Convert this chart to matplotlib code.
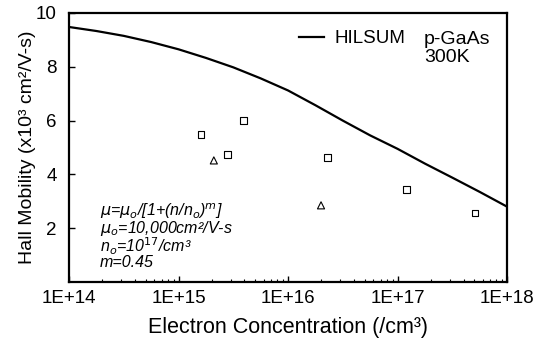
import matplotlib.pyplot as plt
import numpy as np

plt.rcParams['font.family'] = ['Liberation Sans', 'DejaVu Sans']

# HILSUM curve (smoothed by eye)
hil_n = [1e14, 1.78e14, 3.16e14, 5.62e14, 1e15, 1.78e15, 3.16e15, 5.62e15, 1e16,
         1.78e16, 3.16e16, 5.62e16, 1e17, 1.78e17, 3.16e17, 5.62e17, 1e18]
hil_mu = [9.48, 9.33, 9.15, 8.92, 8.65, 8.33, 7.98, 7.57, 7.12,
          6.57, 6.0, 5.45, 4.95, 4.4, 3.88, 3.35, 2.8]

# measured points
sq_n = [1.6e15, 2.8e15, 3.9e15, 2.3e16, 1.2e17, 5.1e17]
sq_mu = [5.48, 4.74, 6.00, 4.63, 3.44, 2.56]
tri_n = [2.1e15, 2.0e16]
tri_mu = [4.52, 2.85]

xticks = [1e14, 1e15, 1e16, 1e17, 1e18]
xlabels = ["1E+14", "1E+15", "1E+16", "1E+17", "1E+18"]
yticks = [2, 4, 6, 8, 10]

fig = plt.figure(figsize=(5.5, 3.42), dpi=100)
ax = fig.add_axes([0.1255, 0.1754, 0.7965, 0.7866])

ax.plot(hil_n, hil_mu, color='black', lw=1.6, label='HILSUM')
ax.scatter(sq_n, sq_mu, marker='s', s=22, facecolors='none', edgecolors='black', linewidths=0.8)
ax.scatter(tri_n, tri_mu, marker='^', s=26, facecolors='none', edgecolors='black', linewidths=0.8)

ax.set_xscale('log')
ax.set_xlim(1e14, 1e18)
ax.set_ylim(0, 10)
ax.set_xticks(xticks)
ax.set_xticklabels(xlabels)
ax.set_yticks(yticks)
ax.set_yticklabels([str(v) for v in yticks])
ax.tick_params(axis='both', which='major', direction='in', length=4, width=1, labelsize=13.5, pad=6)
ax.tick_params(axis='y', pad=9)
ax.tick_params(axis='x', which='minor', direction='in', length=2.5, width=0.8)
ax.tick_params(top=False, right=False, which='both')
for s in ax.spines.values():
    s.set_linewidth(1.6)

ax.set_xlabel("Electron Concentration (/cm³)", fontsize=15.5, labelpad=7)
ax.set_ylabel("Hall Mobility (x10³ cm²/V-s)", fontsize=14, labelpad=0)

ax.legend(loc='upper left', bbox_to_anchor=(0.5, 0.978), frameon=False, fontsize=13.5,
          handlelength=1.3, handletextpad=0.6, borderaxespad=0.2)
ax.text(0.81, 0.933, "p-GaAs\n300K", transform=ax.transAxes, fontsize=14,
        va='top', ha='left', linespacing=1.05)

ax.text(0.07, 0.30,
        r"$\mu$=$\mu_o$/[1+(n/n$_o$)$^m$]" "\n"
        r"$\mu_o$=10,000cm²/V-s" "\n"
        r"n$_o$=10$^{17}$/cm³" "\n"
        "m=0.45",
        transform=ax.transAxes, fontsize=11.5, style='italic', va='top', ha='left',
        linespacing=0.85)

fig.savefig('out.png', dpi=100)
